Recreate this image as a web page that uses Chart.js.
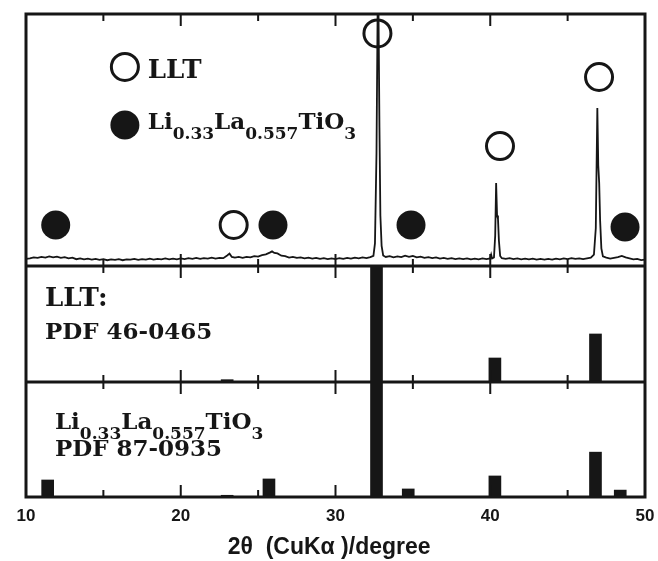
<!DOCTYPE html>
<html lang="en">
<head>
    <meta charset="UTF-8">
    <title>XRD pattern of LLT</title>
    <script src="https://cdn.jsdelivr.net/npm/chart.js"></script>
    <style>
        body {
            margin: 0;
            padding: 0;
            background-color: #fff;
        }
        .chartBox {
            width: 658px;
            height: 561px;
        }
    </style>
</head>
<body>
    <div class="chartBox">
        <canvas id="myChart" width="658" height="561"></canvas>
    </div>
    <script>
        // measured pattern: [2theta, intensity] (top panel, 0..100)
        const xrdPattern = [
            [10.00, 2.8], [10.25, 3.0], [10.50, 3.4], [10.75, 3.2], [11.00, 3.6], [11.25, 3.3],
            [11.50, 3.8], [11.75, 3.4], [12.00, 3.7], [12.25, 3.2], [12.50, 3.5], [12.75, 3.0],
            [13.00, 3.3], [13.25, 2.7], [13.50, 3.0], [13.75, 2.6], [14.00, 2.9], [14.25, 2.5],
            [14.50, 2.8], [14.75, 2.4], [15.00, 2.7], [15.25, 2.3], [15.50, 2.6], [15.75, 2.4],
            [16.00, 2.7], [16.25, 2.3], [16.50, 2.6], [16.75, 2.5], [17.00, 2.8], [17.25, 2.4],
            [17.50, 2.7], [17.75, 2.5], [18.00, 2.9], [18.25, 2.5], [18.50, 2.8], [18.75, 2.6],
            [19.00, 3.0], [19.25, 2.6], [19.50, 2.9], [19.75, 2.6], [20.00, 3.0], [20.25, 2.7],
            [20.50, 3.1], [20.75, 2.8], [21.00, 3.2], [21.25, 2.8], [21.50, 3.1], [21.75, 2.9],
            [22.00, 3.3], [22.25, 2.9], [22.50, 3.2], [22.75, 3.1], [23.00, 4.2], [23.15, 4.9],
            [23.30, 3.6], [23.50, 3.3], [23.75, 3.6], [24.00, 3.2], [24.25, 3.6], [24.50, 3.4],
            [24.75, 3.9], [25.00, 3.7], [25.25, 4.3], [25.50, 4.6], [25.75, 5.3], [25.90, 5.8],
            [26.05, 5.2], [26.25, 5.0], [26.50, 4.1], [26.75, 3.9], [27.00, 3.3], [27.25, 3.6],
            [27.50, 3.2], [27.75, 3.4], [28.00, 3.0], [28.25, 3.3], [28.50, 2.9], [28.75, 3.2],
            [29.00, 2.8], [29.25, 3.1], [29.50, 2.7], [29.75, 3.0], [30.00, 2.7], [30.25, 3.1],
            [30.50, 2.8], [30.75, 3.2], [31.00, 2.9], [31.25, 3.3], [31.50, 3.0], [31.75, 3.4],
            [32.00, 3.1], [32.25, 3.5], [32.45, 4.0], [32.55, 9.0], [32.65, 45], [32.72, 100],
            [32.78, 100], [32.84, 55], [32.90, 20], [32.98, 8.0], [33.08, 4.2], [33.25, 3.6],
            [33.50, 3.9], [33.75, 3.4], [34.00, 3.8], [34.25, 3.5], [34.50, 4.1], [34.75, 3.6],
            [35.00, 4.0], [35.25, 3.4], [35.50, 3.7], [35.75, 3.2], [36.00, 3.5], [36.25, 3.1],
            [36.50, 3.4], [36.75, 2.9], [37.00, 3.2], [37.25, 2.8], [37.50, 3.1], [37.75, 2.7],
            [38.00, 3.0], [38.25, 2.7], [38.50, 3.0], [38.75, 2.6], [39.00, 2.9], [39.25, 2.6],
            [39.50, 3.0], [39.75, 2.7], [40.00, 3.0], [40.06, 4.5], [40.12, 3.0], [40.24, 3.4],
            [40.32, 12], [40.38, 32.9], [40.44, 20], [40.50, 18.7], [40.56, 10], [40.64, 4.0],
            [40.75, 3.1], [41.00, 2.8], [41.25, 3.1], [41.50, 2.7], [41.75, 3.0], [42.00, 2.6],
            [42.25, 2.9], [42.50, 2.6], [42.75, 2.9], [43.00, 2.5], [43.25, 2.8], [43.50, 2.5],
            [43.75, 2.8], [44.00, 2.5], [44.25, 2.9], [44.50, 2.6], [44.75, 3.0], [45.00, 2.7],
            [45.25, 3.1], [45.50, 2.8], [45.75, 3.0], [46.00, 2.7], [46.25, 3.0], [46.50, 3.3],
            [46.70, 4.5], [46.82, 15], [46.92, 62.7], [46.98, 40], [47.04, 32.9], [47.10, 18],
            [47.18, 7.0], [47.28, 3.8], [47.50, 3.3], [47.75, 2.9], [48.00, 3.2], [48.25, 3.5],
            [48.50, 4.0], [48.75, 3.4], [49.00, 3.0], [49.25, 2.6], [49.50, 2.8], [49.75, 2.3],
            [50.00, 2.5]
        ];

        // reference cards (relative intensity, %)
        const llt46Angle = [23.0, 32.65, 40.3, 46.8];
        const llt46Int   = [2, 100, 20.7, 41.4];
        const llt87Angle = [11.4, 23.0, 25.7, 32.65, 34.7, 40.3, 46.8, 48.4];
        const llt87Int   = [14.8, 1.5, 15.7, 100, 7, 18.3, 39, 6];

        // peak markers (top panel)
        const openMarkAngle   = [16.39, 23.42, 32.71, 40.63, 47.03];
        const openMarkY       = [79.0, 16.3, 92.3, 47.6, 75.0];
        const filledMarkAngle = [16.39, 11.92, 25.96, 34.88, 48.71];
        const filledMarkY     = [56.0, 16.3, 16.3, 16.3, 15.5];

        const xTicks = [10, 15, 20, 25, 30, 35, 40, 45, 50];

        const ink = '#161616';
        const serif = '"DejaVu Serif", serif';

        // text labels, placed in axis units; size is the main font size
        const notes = [
            {axis: 'yTop', x: 17.87, y: 74.6, size: 26, runs: [['LLT', 0]]},
            {axis: 'yTop', x: 17.87, y: 54.4, size: 23, runs: [['Li', 0], ['0.33', 1], ['La', 0], ['0.557', 1], ['TiO', 0], ['3', 1]]},
            {axis: 'yMid', x: 11.23, y: 65.5, size: 26, runs: [['LLT:', 0]]},
            {axis: 'yMid', x: 11.23, y: 37.1, size: 23, runs: [['PDF 46-0465', 0]]},
            {axis: 'yBot', x: 11.87, y: 59.1, size: 23, runs: [['Li', 0], ['0.33', 1], ['La', 0], ['0.557', 1], ['TiO', 0], ['3', 1]]},
            {axis: 'yBot', x: 11.87, y: 35.7, size: 23, runs: [['PDF 87-0935', 0]]}
        ];

        const toPoints = (xs, ys) => xs.map((v, i) => ({x: v, y: ys[i]}));

        const framePlugin = {
            id: 'frame',
            afterDatasetsDraw(chart) {
                const {ctx, chartArea: a, scales} = chart;
                const x = scales.x;
                const panels = [scales.yTop, scales.yMid, scales.yBot];
                ctx.save();
                ctx.strokeStyle = ink;
                ctx.fillStyle = ink;

                // inward ticks on every panel edge
                ctx.lineWidth = 2;
                ctx.beginPath();
                panels.forEach(p => {
                    xTicks.forEach(t => {
                        const px = x.getPixelForValue(t);
                        const len = t % 10 === 0 ? 12 : 7;
                        ctx.moveTo(px, p.top);
                        ctx.lineTo(px, p.top + len);
                        ctx.moveTo(px, p.bottom);
                        ctx.lineTo(px, p.bottom - len);
                    });
                });
                ctx.stroke();

                // frame and dividers
                ctx.lineWidth = 3;
                ctx.strokeRect(a.left, a.top, a.width, a.height);
                ctx.beginPath();
                ctx.moveTo(a.left, scales.yMid.top);
                ctx.lineTo(a.right, scales.yMid.top);
                ctx.moveTo(a.left, scales.yBot.top);
                ctx.lineTo(a.right, scales.yBot.top);
                ctx.stroke();

                // labels with subscripts
                ctx.textBaseline = 'alphabetic';
                ctx.textAlign = 'left';
                notes.forEach(n => {
                    let px = x.getPixelForValue(n.x);
                    const py = scales[n.axis].getPixelForValue(n.y);
                    n.runs.forEach(([txt, sub]) => {
                        ctx.font = 'bold ' + (sub ? 17 : n.size) + 'px ' + serif;
                        ctx.fillText(txt, px, sub ? py + 10 : py);
                        px += ctx.measureText(txt).width;
                    });
                });
                ctx.restore();
            }
        };

        const ctx = document.getElementById('myChart');

        const myChart = new Chart(ctx, {
            type: 'scatter',
            data: {
                datasets: [
                    {
                        type: 'line',
                        data: xrdPattern.map(p => ({x: p[0], y: p[1]})),
                        yAxisID: 'yTop',
                        borderColor: ink,
                        borderWidth: 1.8,
                        pointRadius: 0,
                        tension: 0,
                        fill: false
                    },
                    {
                        type: 'bar',
                        data: toPoints(llt46Angle, llt46Int),
                        yAxisID: 'yMid',
                        grouped: false,
                        barThickness: 12,
                        backgroundColor: ink
                    },
                    {
                        type: 'bar',
                        data: toPoints(llt87Angle, llt87Int),
                        yAxisID: 'yBot',
                        grouped: false,
                        barThickness: 12,
                        backgroundColor: ink
                    },
                    {
                        data: toPoints(openMarkAngle, openMarkY),
                        yAxisID: 'yTop',
                        pointRadius: 13.5,
                        borderWidth: 3,
                        borderColor: ink,
                        backgroundColor: 'rgba(0,0,0,0)'
                    },
                    {
                        data: toPoints(filledMarkAngle, filledMarkY),
                        yAxisID: 'yTop',
                        pointRadius: 14.5,
                        borderWidth: 0,
                        backgroundColor: ink
                    }
                ]
            },
            options: {
                responsive: false,
                animation: false,
                events: [],
                layout: {
                    autoPadding: false,
                    padding: {left: 26, right: 13, top: 14, bottom: 0}
                },
                plugins: {
                    legend: {display: false},
                    tooltip: {enabled: false}
                },
                scales: {
                    x: {
                        type: 'linear',
                        position: 'bottom',
                        min: 10,
                        max: 50,
                        offset: false,
                        // tick marks are drawn by the frame plugin; tickLength only spaces the labels
                        grid: {display: false, drawTicks: true, tickLength: 9, offset: false},
                        border: {display: false},
                        ticks: {
                            stepSize: 10,
                            padding: 0,
                            color: ink,
                            font: {family: 'Liberation Sans, Arial, sans-serif', size: 17, weight: 'bold'}
                        },
                        title: {
                            display: true,
                            text: '2θ  (CuKα )/degree  ',
                            color: ink,
                            padding: {top: 7, bottom: 0},
                            font: {family: 'Liberation Sans, Arial, sans-serif', size: 23, weight: 'bold'}
                        }
                    },
                    yTop: {
                        type: 'linear', position: 'left', stack: 'panels', stackWeight: 252, weight: 3,
                        min: 0, max: 100, display: false
                    },
                    yMid: {
                        type: 'linear', position: 'left', stack: 'panels', stackWeight: 116, weight: 2,
                        min: 0, max: 100, display: false
                    },
                    yBot: {
                        type: 'linear', position: 'left', stack: 'panels', stackWeight: 115, weight: 1,
                        min: 0, max: 100, display: false
                    }
                }
            },
            plugins: [framePlugin]
        });
    </script>
</body>
</html>
